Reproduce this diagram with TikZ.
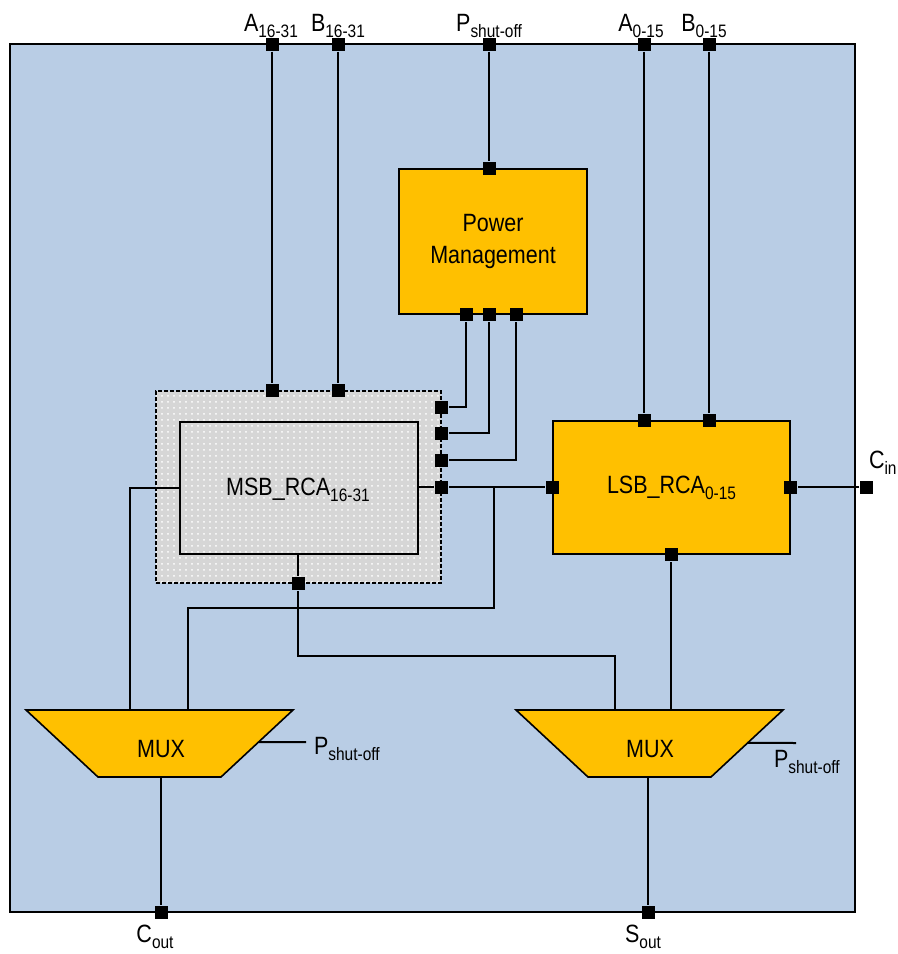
\documentclass[tikz,border=0pt]{standalone}
\usepackage{fontspec}
\setmainfont{Liberation Sans}[FakeStretch=0.86]
\usetikzlibrary{calc,patterns,positioning}

\definecolor{chipblue}{HTML}{B9CDE5}
\definecolor{blockorange}{HTML}{FFC000}
\newcommand\lsub[1]{\raisebox{-3pt}{\fontsize{9}{9}\selectfont #1}}

\begin{document}
\begin{tikzpicture}[x=0.5pt,y=-0.5pt,line width=1pt,
  port/.style={fill=black,inner sep=0pt,minimum size=6.5pt},
  lbl/.style={font=\fontsize{12.5}{15}\selectfont,inner sep=0pt},
  block/.style={draw,line width=0.9pt,fill=blockorange,font=\fontsize{12.5}{16}\selectfont,align=center}]
  \useasboundingbox (0,0) rectangle (898,954);
  % chip
  \draw[fill=chipblue] (10,44) rectangle (855,912);

  % bloques
  \node[block,minimum width=94pt,minimum height=72.5pt] (pm) at (493,241.5) {Power\\Management};
  \node[draw,dashed,dash pattern=on 2pt off 1pt,line width=0.7pt,
        preaction={fill=gray!32},pattern=dots,pattern color=white,
        minimum width=142.5pt,minimum height=96pt] (msb) at (298.5,487) {};
  \node[draw,line width=0.9pt,minimum width=119pt,minimum height=66pt] (rca) at (299,488) {};
  \node[lbl] (msbt) at (298,490) {MSB\_RCA\lsub{16-31}};
  \node[block,minimum width=118.5pt,minimum height=66.5pt] (lsb) at (671.5,487.5) {LSB\_RCA\lsub{0-15}};

  % mux
  \coordinate (m1tl) at (26,710); \coordinate (m1tr) at (293,710);
  \coordinate (m1br) at (221,777); \coordinate (m1bl) at (98,777);
  \coordinate (m2tl) at (516,710); \coordinate (m2tr) at (783,710);
  \coordinate (m2br) at (711,777); \coordinate (m2bl) at (588,777);
  \draw[line width=0.8pt,fill=blockorange] (m1tl)--(m1tr)--(m1br)--(m1bl)--cycle;
  \draw[line width=0.8pt,fill=blockorange] (m2tl)--(m2tr)--(m2br)--(m2bl)--cycle;
  \node[lbl] (mux1) at (161,749) {MUX};
  \node[lbl] (mux2) at (650,749) {MUX};

  % puertos del chip
  \node[port] (pA1) at (272,44) {};
  \node[port] (pB1) at (338,44) {};
  \node[port] (pP) at (489,44) {};
  \node[port] (pA0) at (644,44) {};
  \node[port] (pB0) at (709,44) {};
  \node[port] (pCin) at (866,487) {};
  \node[port] (pCout) at (161,912) {};
  \node[port] (pSout) at (648,912) {};
  \node[lbl,anchor=base] at (271,31) {A\lsub{16-31}};
  \node[lbl,anchor=base] at (338,31) {B\lsub{16-31}};
  \node[lbl,anchor=base] at (489,31) {P\lsub{shut-off}};
  \node[lbl,anchor=base] at (641,31) {A\lsub{0-15}};
  \node[lbl,anchor=base] at (704,31) {B\lsub{0-15}};
  \node[lbl,anchor=base west] at (868,468) {C\lsub{in}};
  \node[lbl,anchor=base] at (155,942) {C\lsub{out}};
  \node[lbl,anchor=base] at (643,942) {S\lsub{out}};

  % puertos de los bloques
  \node[port] (pmT) at (489,0 |- pm.north) {};
  \node[port] (pmB1) at (466,0 |- pm.south) {};
  \node[port] (pmB2) at (489,0 |- pm.south) {};
  \node[port] (pmB3) at (516,0 |- pm.south) {};
  \node[port] (msbA) at (272,0 |- msb.north) {};
  \node[port] (msbB) at (338,0 |- msb.north) {};
  \node[port] (msbR1) at (msb.east |- 0,407) {};
  \node[port] (msbR2) at (msb.east |- 0,433) {};
  \node[port] (msbR3) at (msb.east |- 0,460) {};
  \node[port] (msbR4) at (msb.east |- 0,487) {};
  \node[port] (msbS) at (298,0 |- msb.south) {};
  \node[port] (lsbA) at (644,0 |- lsb.north) {};
  \node[port] (lsbB) at (709,0 |- lsb.north) {};
  \node[port] (lsbL) at (lsb.west |- 0,487) {};
  \node[port] (lsbR) at (lsb.east |- 0,487) {};
  \node[port] (lsbS) at (671,0 |- lsb.south) {};

  % conexiones
  \draw (pA1) -- (msbA);
  \draw (pB1) -- (msbB);
  \draw (pP) -- (pmT);
  \draw (pA0) -- (lsbA);
  \draw (pB0) -- (lsbB);
  \draw (pmB1) |- (msbR1);
  \draw (pmB2) |- (msbR2);
  \draw (pmB3) |- (msbR3);
  \draw (rca.east |- msbR4) -- (msbR4) -- (lsbL);
  \draw (rca.south -| msbS) -- (msbS);
  \draw (lsbR) -- (pCin);
  \coordinate (j1) at (494,487);
  \coordinate (m1a) at (130,710); \coordinate (m1b) at (188,710);
  \coordinate (m2a) at (615,710); \coordinate (m2b) at (671,710);
  \draw (rca.west |- 0,488) -| (m1a);
  \draw (j1) -- ++(0,121) -| (m1b);
  \draw (msbS) -- ++(0,72) -| (m2a);
  \draw (lsbS) -- (m2b);
  \draw (161,777) -- (pCout);
  \draw (648,777) -- (pSout);
  % control de los mux
  \coordinate (ps1) at (306,742); \coordinate (ps2) at (796,743);
  \draw ($(m1tr)!0.478!(m1br)$) -- (ps1);
  \draw ($(m2tr)!0.49!(m2br)$) -- (ps2);
  \node[lbl,anchor=base west] at ($(ps1)+(7,12)$) {P\lsub{shut-off}};
  \node[lbl,anchor=base west] at ($(ps2)+(-23,24)$) {P\lsub{shut-off}};
\end{tikzpicture}
\end{document}
